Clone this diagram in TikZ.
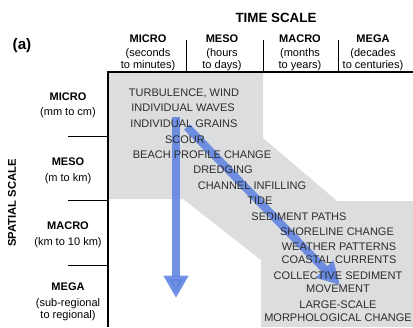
\documentclass[tikz,border=0pt]{standalone}
\usepackage{fontspec}
\setmainfont{Liberation Sans}
\usetikzlibrary{positioning,arrows.meta}

\definecolor{bandgray}{RGB}{220,221,223}
\definecolor{flow}{RGB}{98,133,226}
\definecolor{ink}{RGB}{45,45,45}

\tikzset{
  item/.style={anchor=base, align=center, text=ink, inner sep=0pt,
    font=\fontsize{9.4}{10.4}\selectfont},
  colhead/.style={anchor=base, align=center, inner sep=0pt,
    font=\fontsize{9.4}{10}\selectfont\bfseries},
  colsub/.style={anchor=base, align=center, inner sep=0pt,
    font=\fontsize{9.4}{10}\selectfont},
  trend/.style={draw=flow, line width=6.8pt, opacity=0.9,
    -{Triangle[width=20pt,length=19pt]}},
}

\begin{document}
\begin{tikzpicture}[x=0.03cm, y=-0.03cm]
  \useasboundingbox (0,0) rectangle (413,327);
  % shaded band of processes
  \fill[bandgray] (108,72) -- (263,72) -- (263,138) -- (337,201) -- (413,201)
    -- (413,327) -- (261,327) -- (261,260) -- (183,199) -- (108,199) -- cycle;
  % arrows
  \coordinate (vtop) at (176,117);
  \coordinate (vend) at (176,298);
  \coordinate (dtop) at (187,127);
  \coordinate (dend) at (340,285);
  \draw[trend] (vtop) -- (vend);
  \draw[trend] (dtop) -- (dend);
  % titles
  \node[font=\fontsize{11.4}{12}\selectfont\bfseries, anchor=base] (tscale) at (276,22) {TIME SCALE};
  \node[font=\fontsize{13}{14}\selectfont\bfseries, anchor=base] (panel) at (22,49) {(a)};
  \node[font=\fontsize{9.6}{10}\selectfont\bfseries, rotate=90] (sscale) at (12,203) {SPATIAL SCALE};
  % time scale columns (sub text placed by its last line)
  \foreach \cx/\cname/\cspan in {148/MICRO/{(seconds\\to minutes)}, 222/MESO/{(hours\\to days)},
      300/MACRO/{(months\\to years)}, 373/MEGA/{(decades\\to centuries)}} {
    \node[colhead] (col\cname) at (\cx,42) {\cname};
    \node[colsub] (sub\cname) at (\cx,68) {\cspan};
  }
  \foreach \sx in {186,263,338}
    \draw[line width=0.6pt] (\sx,40) -- (\sx,72);
  % spatial scale rows
  \foreach \ry/\rname/\sy/\rspan in {100/MICRO/115/{(mm to cm)}, 165/MESO/181/{(m to km)},
      229/MACRO/245/{(km to 10 km)}, 290/MEGA/318/{(sub-regional\\to regional)}} {
    \node[colhead] (row\rname) at (68,\ry) {\rname};
    \node[colsub] (rsub\rname) at (68,\sy) {\rspan};
  }
  \foreach \sy in {136,200,265}
    \draw[line width=0.6pt] (68,\sy) -- (108,\sy);
  % axes
  \draw[line width=1.5pt] (108,327) -- (108,72) -- (413,72);
  % processes
  \foreach \px/\py/\ptxt [count=\i] in {184/96/{TURBULENCE, WIND}, 183/111/{INDIVIDUAL WAVES},
      184/127/{INDIVIDUAL GRAINS}, 185/143/{SCOUR}, 202/158/{BEACH PROFILE CHANGE},
      223/173/{DREDGING}, 252/189/{CHANNEL INFILLING}, 260/204/{TIDE},
      299/220/{SEDIMENT PATHS}, 337/235/{SHORELINE CHANGE},
      339/263/{WEATHER PATTERNS\\COASTAL CURRENTS},
      338/292/{COLLECTIVE SEDIMENT\\MOVEMENT},
      338/321/{LARGE-SCALE\\MORPHOLOGICAL CHANGE}} {
    \node[item] (p\i) at (\px,\py) {\ptxt};
  }
\end{tikzpicture}
\end{document}
